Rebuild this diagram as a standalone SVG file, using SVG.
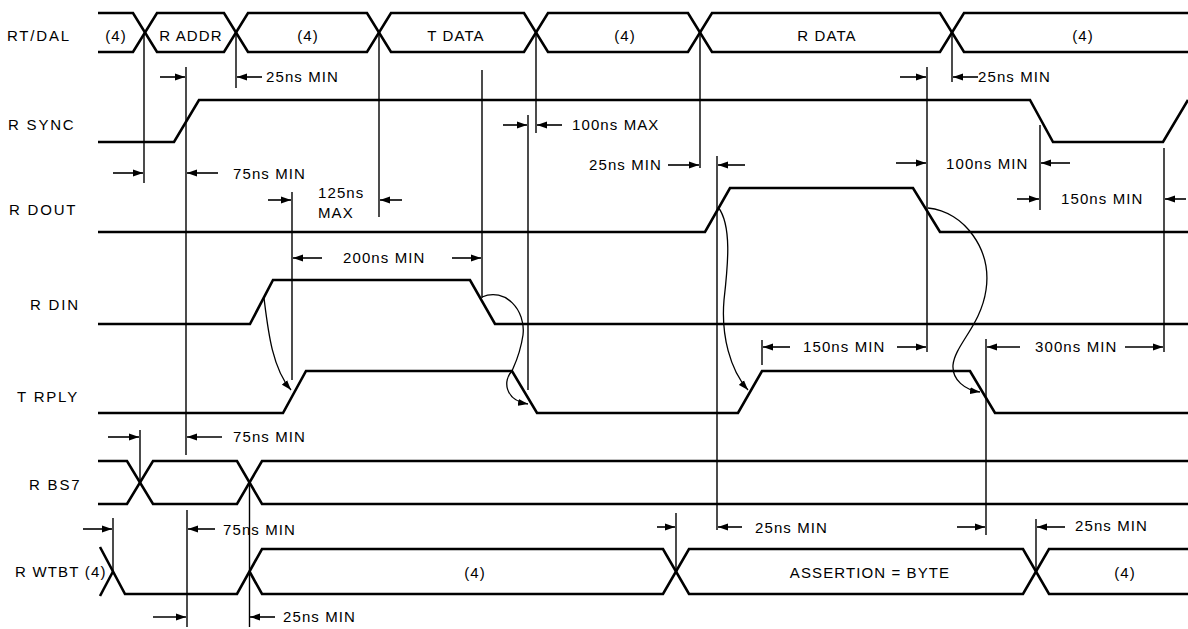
<svg xmlns="http://www.w3.org/2000/svg" width="1188" height="629" viewBox="0 0 1188 629">
<style>
.sig{fill:none;stroke:#000;stroke-width:2.6;stroke-linejoin:miter}
.ref{stroke:#000;stroke-width:1.4;fill:none}
.dim{stroke:#000;stroke-width:1.6;fill:none;marker-end:url(#ah)}
.crv{fill:none;stroke:#000;stroke-width:1.3;marker-end:url(#ah)}
text{font-family:"Liberation Sans",Arial,Helvetica,sans-serif;font-size:15px;letter-spacing:1.1px;fill:#000}
.lbl{letter-spacing:1.8px}
.c{text-anchor:middle}
</style>
<defs>
<marker id="ah" markerUnits="userSpaceOnUse" markerWidth="11" markerHeight="8" refX="10" refY="4" orient="auto">
<path d="M0,0.5 L10,4 L0,7.5 z" fill="#000"/>
</marker>
</defs>
<rect width="1188" height="629" fill="#fff"/>

<g id="sig-rtdal">
<text class="lbl" x="7" y="41">RT/DAL</text>
<path class="sig" d="M98,13 H133 L157,52 H224 L248,13 H367 L391,52 H524 L548,13 H688 L712,52 H940 L964,13 H1188"/>
<path class="sig" d="M98,52 H133 L157,13 H224 L248,52 H367 L391,13 H524 L548,52 H688 L712,13 H940 L964,52 H1188"/>
<text class="c" x="116" y="41">(4)</text>
<text class="c" x="191" y="41">R ADDR</text>
<text class="c" x="308" y="41">(4)</text>
<text class="c" x="456" y="41">T DATA</text>
<text class="c" x="625" y="41">(4)</text>
<text class="c" x="827" y="41">R DATA</text>
<text class="c" x="1083" y="41">(4)</text>
</g>

<g id="sig-rsync">
<text class="lbl" x="8" y="130">R SYNC</text>
<path class="sig" d="M98,142 H174 L199,100 H1030 L1053,142 H1163 L1188,100"/>
</g>

<g id="sig-rdout">
<text class="lbl" x="9" y="215">R DOUT</text>
<path class="sig" d="M98,232 H705 L730,188 H913 L940,232 H1188"/>
</g>

<g id="sig-rdin">
<text class="lbl" x="30" y="310">R DIN</text>
<path class="sig" d="M98,324 H250 L273,280 H470 L495,324 H1188"/>
</g>

<g id="sig-trply">
<text class="lbl" x="17" y="402">T RPLY</text>
<path class="sig" d="M98,413 H283 L306,371 H512 L537,413 H738 L762,371 H970 L995,413 H1188"/>
</g>

<g id="sig-rbs7">
<text class="lbl" x="29" y="490">R BS7</text>
<path class="sig" d="M98,461 H127 L153,504 H237 L262,461 H1188"/>
<path class="sig" d="M98,504 H127 L153,461 H237 L262,504 H1188"/>
</g>

<g id="sig-rwtbt">
<text x="15" y="577" style="letter-spacing:1.2px">R WTBT (4)</text>
<path class="sig" d="M100,547 L125,594 H237 L262,549 H663 L689,594 H1023 L1049,549 H1188"/>
<path class="sig" d="M100,596 L113,571.5"/>
<path class="sig" d="M249.5,571.5 L262,594 H663 L689,549 H1023 L1049,594 H1188"/>
<text class="c" x="475" y="578">(4)</text>
<text class="c" x="870" y="578">ASSERTION = BYTE</text>
<text class="c" x="1125" y="578">(4)</text>
</g>

<g id="connectors">
<path class="ref" d="M144,33 V183 M186,67 V455 M187,510 V627 M236,33 V88 M292,192 V380 M379,33 V217 M482,70 V298 M528,115 V390 M536,33 V133 M700,33 V168 M717,156 V530 M762,340 V365 M927,67 V352 M952,33 V82 M986,339 V535 M1040,125 V210 M1164,148 V352 M140,430 V483 M249.5,483 V627 M113,518 V571 M676,513 V571 M1036,519 V571"/>

<line class="dim" x1="160" y1="77" x2="185" y2="77"/>
<line class="dim" x1="262" y1="77" x2="237" y2="77"/>
<line class="dim" x1="113" y1="173" x2="143" y2="173"/>
<line class="dim" x1="218" y1="173" x2="187" y2="173"/>
<line class="dim" x1="268" y1="200" x2="291" y2="200"/>
<line class="dim" x1="402" y1="200" x2="380" y2="200"/>
<line class="dim" x1="322" y1="258" x2="293" y2="258"/>
<line class="dim" x1="452" y1="258" x2="481" y2="258"/>
<line class="dim" x1="503" y1="125" x2="527" y2="125"/>
<line class="dim" x1="562" y1="125" x2="537" y2="125"/>
<line class="dim" x1="668" y1="165" x2="699" y2="165"/>
<line class="dim" x1="745" y1="165" x2="718" y2="165"/>
<line class="dim" x1="900" y1="77" x2="926" y2="77"/>
<line class="dim" x1="978" y1="77" x2="953" y2="77"/>
<line class="dim" x1="896" y1="163" x2="926" y2="163"/>
<line class="dim" x1="1070" y1="163" x2="1041" y2="163"/>
<line class="dim" x1="1017" y1="199" x2="1039" y2="199"/>
<line class="dim" x1="1186" y1="199" x2="1165" y2="199"/>
<line class="dim" x1="790" y1="347" x2="763" y2="347"/>
<line class="dim" x1="897" y1="347" x2="926" y2="347"/>
<line class="dim" x1="1020" y1="347" x2="987" y2="347"/>
<line class="dim" x1="1125" y1="347" x2="1163" y2="347"/>
<line class="dim" x1="108" y1="437" x2="139" y2="437"/>
<line class="dim" x1="222" y1="437" x2="187" y2="437"/>
<line class="dim" x1="83" y1="529" x2="112" y2="529"/>
<line class="dim" x1="215" y1="529" x2="188" y2="529"/>
<line class="dim" x1="657" y1="527" x2="675" y2="527"/>
<line class="dim" x1="742" y1="527" x2="718" y2="527"/>
<line class="dim" x1="957" y1="527" x2="985" y2="527"/>
<line class="dim" x1="1065" y1="527" x2="1037" y2="527"/>
<line class="dim" x1="153" y1="617" x2="186" y2="617"/>
<line class="dim" x1="275" y1="617" x2="250" y2="617"/>

<path class="crv" d="M264,298 C268,330 272,368 291,390"/>
<path class="crv" d="M482,297 C505,287 526,310 523,335 C520,355 514,366 512,371 C503,380 504,400 528,404"/>
<path class="crv" d="M718,207 C732,225 728,265 724,300 C721,335 730,370 748,390"/>
<path class="crv" d="M928,208 C965,212 992,250 986,290 C981,325 955,345 953,365 C952,380 965,390 980,392"/>
</g>

<g id="timing-labels">
<text x="266" y="82">25ns MIN</text>
<text x="572" y="130">100ns MAX</text>
<text x="589" y="170">25ns MIN</text>
<text x="978" y="82">25ns MIN</text>
<text x="946" y="169">100ns MIN</text>
<text x="1061" y="204">150ns MIN</text>
<text x="233" y="179">75ns MIN</text>
<text x="318" y="198">125ns</text>
<text x="318" y="218">MAX</text>
<text x="343" y="263">200ns MIN</text>
<text x="803" y="352">150ns MIN</text>
<text x="1035" y="352">300ns MIN</text>
<text x="233" y="442">75ns MIN</text>
<text x="223" y="535">75ns MIN</text>
<text x="283" y="622">25ns MIN</text>
<text x="755" y="533">25ns MIN</text>
<text x="1075" y="531">25ns MIN</text>
</g>
</svg>
